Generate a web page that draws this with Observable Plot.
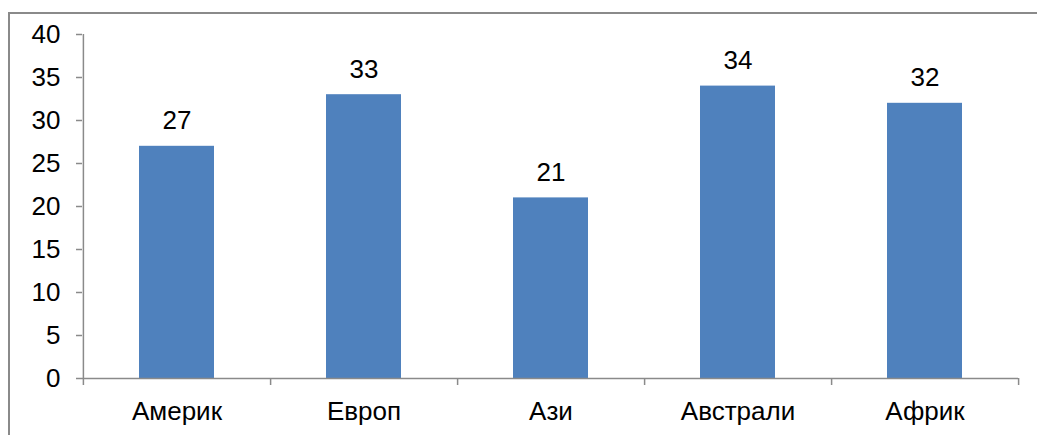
<!DOCTYPE html>
<html>
<head>
<meta charset="utf-8">
<script src="https://cdn.jsdelivr.net/npm/d3@7"></script>
<script src="https://cdn.jsdelivr.net/npm/@observablehq/plot@0.6"></script>
<style>
  html, body { margin: 0; padding: 0; background: #fff; overflow: hidden; }
  #wrap { position: relative; width: 1037px; height: 435px; }
  #frame { position: absolute; left: 8px; top: 12px; width: 1200px; height: 600px;
           border-left: 2px solid #8a8a8a; border-top: 2px solid #8a8a8a; box-sizing: border-box; }
  #chart { position: absolute; left: 0; top: 0; }
</style>
</head>
<body>
<div id="wrap"><div id="frame"></div><div id="chart"></div></div>
<script>
const categories = ["Америк", "Европ", "Ази", "Австрали", "Африк"];
const values = [27, 33, 21, 34, 32];
const yTicks = [0, 5, 10, 15, 20, 25, 30, 35, 40];

const data = categories.map((c, i) => ({category: c, value: values[i]}));

const W = 1037, H = 435;
const mL = 82, mR = 19, mT = 34, mB = 57;
const step = (W - mL - mR) / categories.length;
const axisColor = "#8a8a8a";
const font = "Liberation Sans, Arial, sans-serif";
const fs = 26;

const chart = Plot.plot({
  width: W,
  height: H,
  marginLeft: mL,
  marginRight: mR,
  marginTop: mT,
  marginBottom: mB,
  style: {fontFamily: font, fontSize: fs + "px", color: "#000", background: "transparent"},
  x: {domain: categories, paddingInner: 0.6, paddingOuter: 0.3},
  y: {domain: [0, 40], ticks: yTicks},
  marks: [
    Plot.barY(data, {x: "category", y: "value", fill: "#4F81BD"}),
    Plot.text(data, {x: "category", y: "value", text: d => String(d.value),
      lineAnchor: "bottom", dy: -17, fontSize: fs, fill: "#000"}),
    Plot.ruleY([0], {stroke: axisColor, strokeWidth: 1.5}),
    Plot.ruleX([categories[0]], {x: d => d, dx: -step / 2, y1: 0, y2: 40, stroke: axisColor, strokeWidth: 1.5}),
    Plot.ruleX(categories, {x: d => d, dx: step / 2, y1: 0, y2: 0, insetBottom: -7, stroke: axisColor, strokeWidth: 1.5}),
    Plot.ruleX([categories[0]], {x: d => d, dx: -step / 2, y1: 0, y2: 0, insetBottom: -7, stroke: axisColor, strokeWidth: 1.5}),
    Plot.axisY({ticks: yTicks, tickSize: 6, tickPadding: 16, stroke: axisColor, strokeWidth: 1.5,
      fill: "#000", fontSize: fs, label: null}),
    Plot.axisX({tickSize: 0, tickPadding: 23, fill: "#000", fontSize: fs, label: null})
  ]
});
document.getElementById("chart").appendChild(chart);
</script>
</body>
</html>
